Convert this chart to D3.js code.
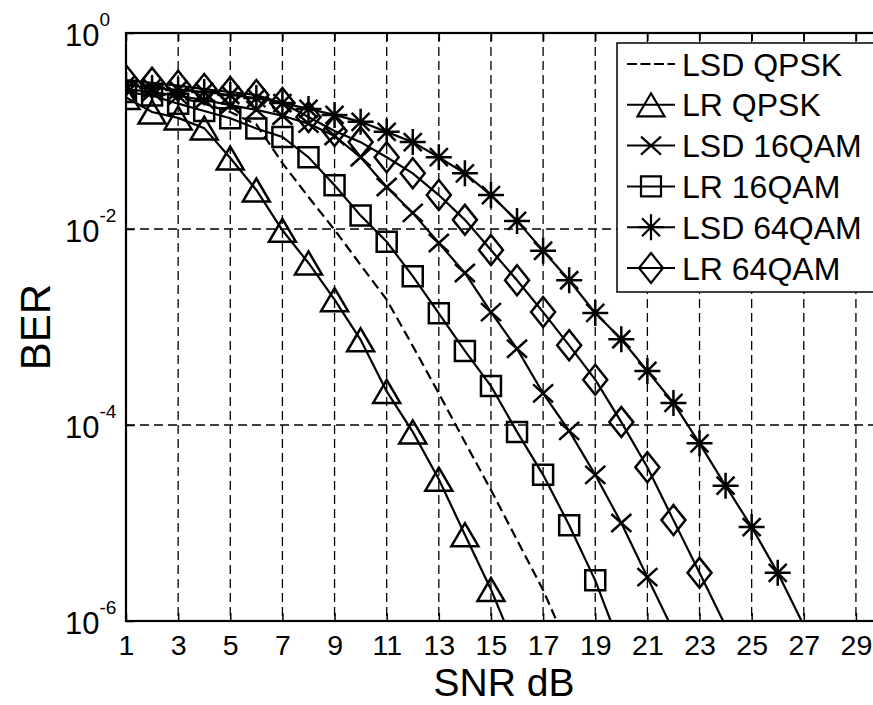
<!DOCTYPE html>
<html>
<head>
<meta charset="utf-8">
<script src="https://cdn.jsdelivr.net/npm/d3@7"></script>
<style>
  html, body { margin: 0; padding: 0; background: #fff; overflow: hidden; }
  svg { display: block; font-family: "Liberation Sans", Arial, Helvetica, sans-serif; }
</style>
</head>
<body>
<svg id="chart" width="873" height="705"></svg>
<script>
// ---- data -------------------------------------------------------------
// SNR (dB) tick labels and BER decades on the log axis
const snrTicks = [1, 3, 5, 7, 9, 11, 13, 15, 17, 19, 21, 23, 25, 27, 29];
const berTicks = [1e-6, 1e-4, 1e-2, 1];
const berTickExponents = ["-6", "-4", "-2", "0"];

// every series is sampled at SNR = 1, 2, 3, ... dB
const snrStart = 1;

const lsdQpsk = [0.26, 0.245, 0.22, 0.19, 0.156, 0.117, 0.047, 0.0212, 0.0098, 0.0043,
  0.0019, 0.00064, 0.00021, 6.7e-5, 2.17e-5, 6.7e-6, 2.07e-6, 5.1e-7];

const lrQpsk = [0.22, 0.156, 0.136, 0.107, 0.053, 0.025, 0.0097, 0.0045, 0.0019, 0.00074,
  0.00022, 8.5e-5, 2.8e-5, 7.6e-6, 2.1e-6, 4.8e-7];

const lsd16qam = [0.268, 0.25, 0.228, 0.207, 0.184, 0.164, 0.143, 0.119, 0.089, 0.054,
  0.0268, 0.0146, 0.0072, 0.00356, 0.00142, 0.0006, 0.00021, 8.7e-5, 3.1e-5, 1.0e-5,
  2.8e-6, 7.9e-7];

const lr16qam = [0.25, 0.23, 0.19, 0.16, 0.135, 0.106, 0.087, 0.054, 0.028, 0.0137,
  0.0074, 0.0033, 0.00138, 0.00057, 0.00025, 8.5e-5, 3.1e-5, 9.5e-6, 2.6e-6, 5.2e-7];

const lsd64qam = [0.294, 0.275, 0.262, 0.25, 0.233, 0.217, 0.193, 0.168, 0.146, 0.124,
  0.098, 0.077, 0.054, 0.037, 0.0222, 0.0121, 0.006, 0.003, 0.00139, 0.00075,
  0.000356, 0.000168, 6.5e-5, 2.4e-5, 9.1e-6, 3.1e-6, 9e-7];

const lr64qam = [0.33, 0.31, 0.29, 0.268, 0.25, 0.233, 0.193, 0.139, 0.1, 0.077,
  0.054, 0.037, 0.0222, 0.0124, 0.0061, 0.003, 0.00142, 0.00065, 0.00029, 0.000107,
  3.7e-5, 1.07e-5, 3.1e-6, 8.9e-7];

const seriesNames = ["LSD QPSK", "LR QPSK", "LSD 16QAM", "LR 16QAM", "LSD 64QAM", "LR 64QAM"];
const seriesValues = [lsdQpsk, lrQpsk, lsd16qam, lr16qam, lsd64qam, lr64qam];
const seriesMarkers = [null, "triangle", "cross", "square", "asterisk", "diamond"];

// ---- layout -----------------------------------------------------------
const svg = d3.select("#chart");
const plot = { left: 126, top: 33, right: 882, bottom: 621 };
const fontStack = "'Liberation Sans', Arial, Helvetica, sans-serif";

const x = d3.scaleLinear().domain([1, 30]).range([plot.left, plot.right]);
const y = d3.scaleLog().domain([1e-6, 1]).range([plot.bottom, plot.top]);

svg.append("rect").attr("width", 873).attr("height", 705).attr("fill", "#fff");

svg.append("defs").append("clipPath").attr("id", "plot-clip")
  .append("rect")
  .attr("x", plot.left).attr("y", plot.top)
  .attr("width", plot.right - plot.left).attr("height", plot.bottom - plot.top);

// ---- grid -------------------------------------------------------------
const grid = svg.append("g").attr("stroke", "#000").attr("stroke-width", 1.3)
  .attr("stroke-dasharray", "9,5").attr("fill", "none");

grid.selectAll("line.v").data(snrTicks.filter(d => d > x.domain()[0])).join("line")
  .attr("class", "v")
  .attr("x1", d => x(d)).attr("x2", d => x(d))
  .attr("y1", y(1)).attr("y2", y(1e-6));

grid.selectAll("line.h").data(berTicks.filter(d => d > 1e-6 && d < 1)).join("line")
  .attr("class", "h")
  .attr("y1", d => y(d)).attr("y2", d => y(d))
  .attr("x1", x(1)).attr("x2", x(30));

// ---- markers ----------------------------------------------------------
const markerPaths = {
  triangle: "M0,-11.5L13.5,11.5L-13.5,11.5Z",
  square: "M-10,-10H10V10H-10Z",
  diamond: "M0,-15L12,0L0,15L-12,0Z",
  cross: "M-10,-9L10,9M-10,9L10,-9",
  asterisk: "M-13,0H13M0,-13V13M-9,-9L9,9M-9,9L9,-9"
};

// ---- curves -----------------------------------------------------------
const line = d3.line()
  .x(d => x(d.snr))
  .y(d => y(d.ber));

const curves = svg.append("g").attr("clip-path", "url(#plot-clip)");

seriesValues.forEach((vals, k) => {
  const pts = vals.map((v, i) => ({ snr: snrStart + i, ber: v }));
  curves.append("path")
    .datum(pts)
    .attr("d", line)
    .attr("fill", "none")
    .attr("stroke", "#000")
    .attr("stroke-width", 2.2)
    .attr("stroke-dasharray", seriesMarkers[k] ? null : "10,5");

  if (seriesMarkers[k]) {
    curves.append("g").selectAll("path")
      .data(pts.filter(p => p.ber >= 1e-6))
      .join("path")
      .attr("transform", p => `translate(${x(p.snr)},${y(p.ber)})`)
      .attr("d", markerPaths[seriesMarkers[k]])
      .attr("fill", "none")
      .attr("stroke", "#000")
      .attr("stroke-width", 2.5)
      .attr("stroke-linejoin", "miter");
  }
});

// ---- axes -------------------------------------------------------------
const xAxis = svg.append("g")
  .attr("transform", `translate(0,${plot.bottom})`)
  .call(d3.axisBottom(x).tickValues(snrTicks).tickSizeInner(-8).tickSizeOuter(0));

xAxis.selectAll(".tick text")
  .attr("y", 33.5).attr("dy", null)
  .attr("font-size", 28.5).attr("fill", "#000")
  .style("font-family", fontStack);

svg.append("g")
  .attr("transform", `translate(0,${plot.top})`)
  .call(d3.axisTop(x).tickValues(snrTicks).tickSizeInner(-8).tickSizeOuter(0).tickFormat(""));

const yAxis = svg.append("g")
  .attr("transform", `translate(${plot.left},0)`)
  .call(d3.axisLeft(y).tickValues(berTicks).tickSizeInner(-8).tickSizeOuter(0).tickFormat(() => "10"));

yAxis.selectAll(".tick text")
  .attr("text-anchor", "start")
  .attr("x", -61)
  .attr("dy", null)
  .attr("y", 12)
  .attr("font-size", 31)
  .attr("fill", "#000")
  .style("font-family", fontStack)
  .each(function (d) {
    const idx = berTicks.indexOf(d);
    d3.select(this).append("tspan")
      .attr("dy", -20)
      .attr("font-size", 19)
      .text(berTickExponents[idx]);
  });

svg.selectAll(".domain").remove();
svg.selectAll(".tick line").attr("stroke", "#000").attr("stroke-width", 1.5);

// plot frame
svg.append("rect")
  .attr("x", plot.left).attr("y", plot.top)
  .attr("width", plot.right - plot.left).attr("height", plot.bottom - plot.top)
  .attr("fill", "none").attr("stroke", "#000").attr("stroke-width", 2.2);

// axis titles
svg.append("text")
  .attr("x", (plot.left + plot.right) / 2).attr("y", 696)
  .attr("text-anchor", "middle").attr("font-size", 39).attr("fill", "#000")
  .text("SNR dB");

svg.append("text")
  .attr("transform", `translate(50,${(plot.top + plot.bottom) / 2}) rotate(-90)`)
  .attr("text-anchor", "middle").attr("font-size", 42).attr("fill", "#000")
  .text("BER");

// ---- legend -----------------------------------------------------------
const legend = svg.append("g").attr("transform", "translate(617,43)");
legend.append("rect")
  .attr("width", 300).attr("height", 249)
  .attr("fill", "#fff").attr("stroke", "#000").attr("stroke-width", 1.5);

const rows = legend.selectAll("g.row").data(seriesNames).join("g")
  .attr("class", "row")
  .attr("transform", (d, i) => `translate(0,${21 + i * 40.8})`);

rows.append("line")
  .attr("x1", 10).attr("x2", 58)
  .attr("stroke", "#000").attr("stroke-width", 2)
  .attr("stroke-dasharray", (d, i) => seriesMarkers[i] ? null : "10,3.5");

rows.filter((d, i) => seriesMarkers[i])
  .append("path")
  .attr("transform", "translate(34,0)")
  .attr("d", d => markerPaths[seriesMarkers[seriesNames.indexOf(d)]])
  .attr("fill", "none").attr("stroke", "#000").attr("stroke-width", 2.2);

rows.append("text")
  .attr("x", 65).attr("dy", "0.36em")
  .attr("font-size", 32).attr("fill", "#000")
  .text(d => d);
</script>
</body>
</html>
